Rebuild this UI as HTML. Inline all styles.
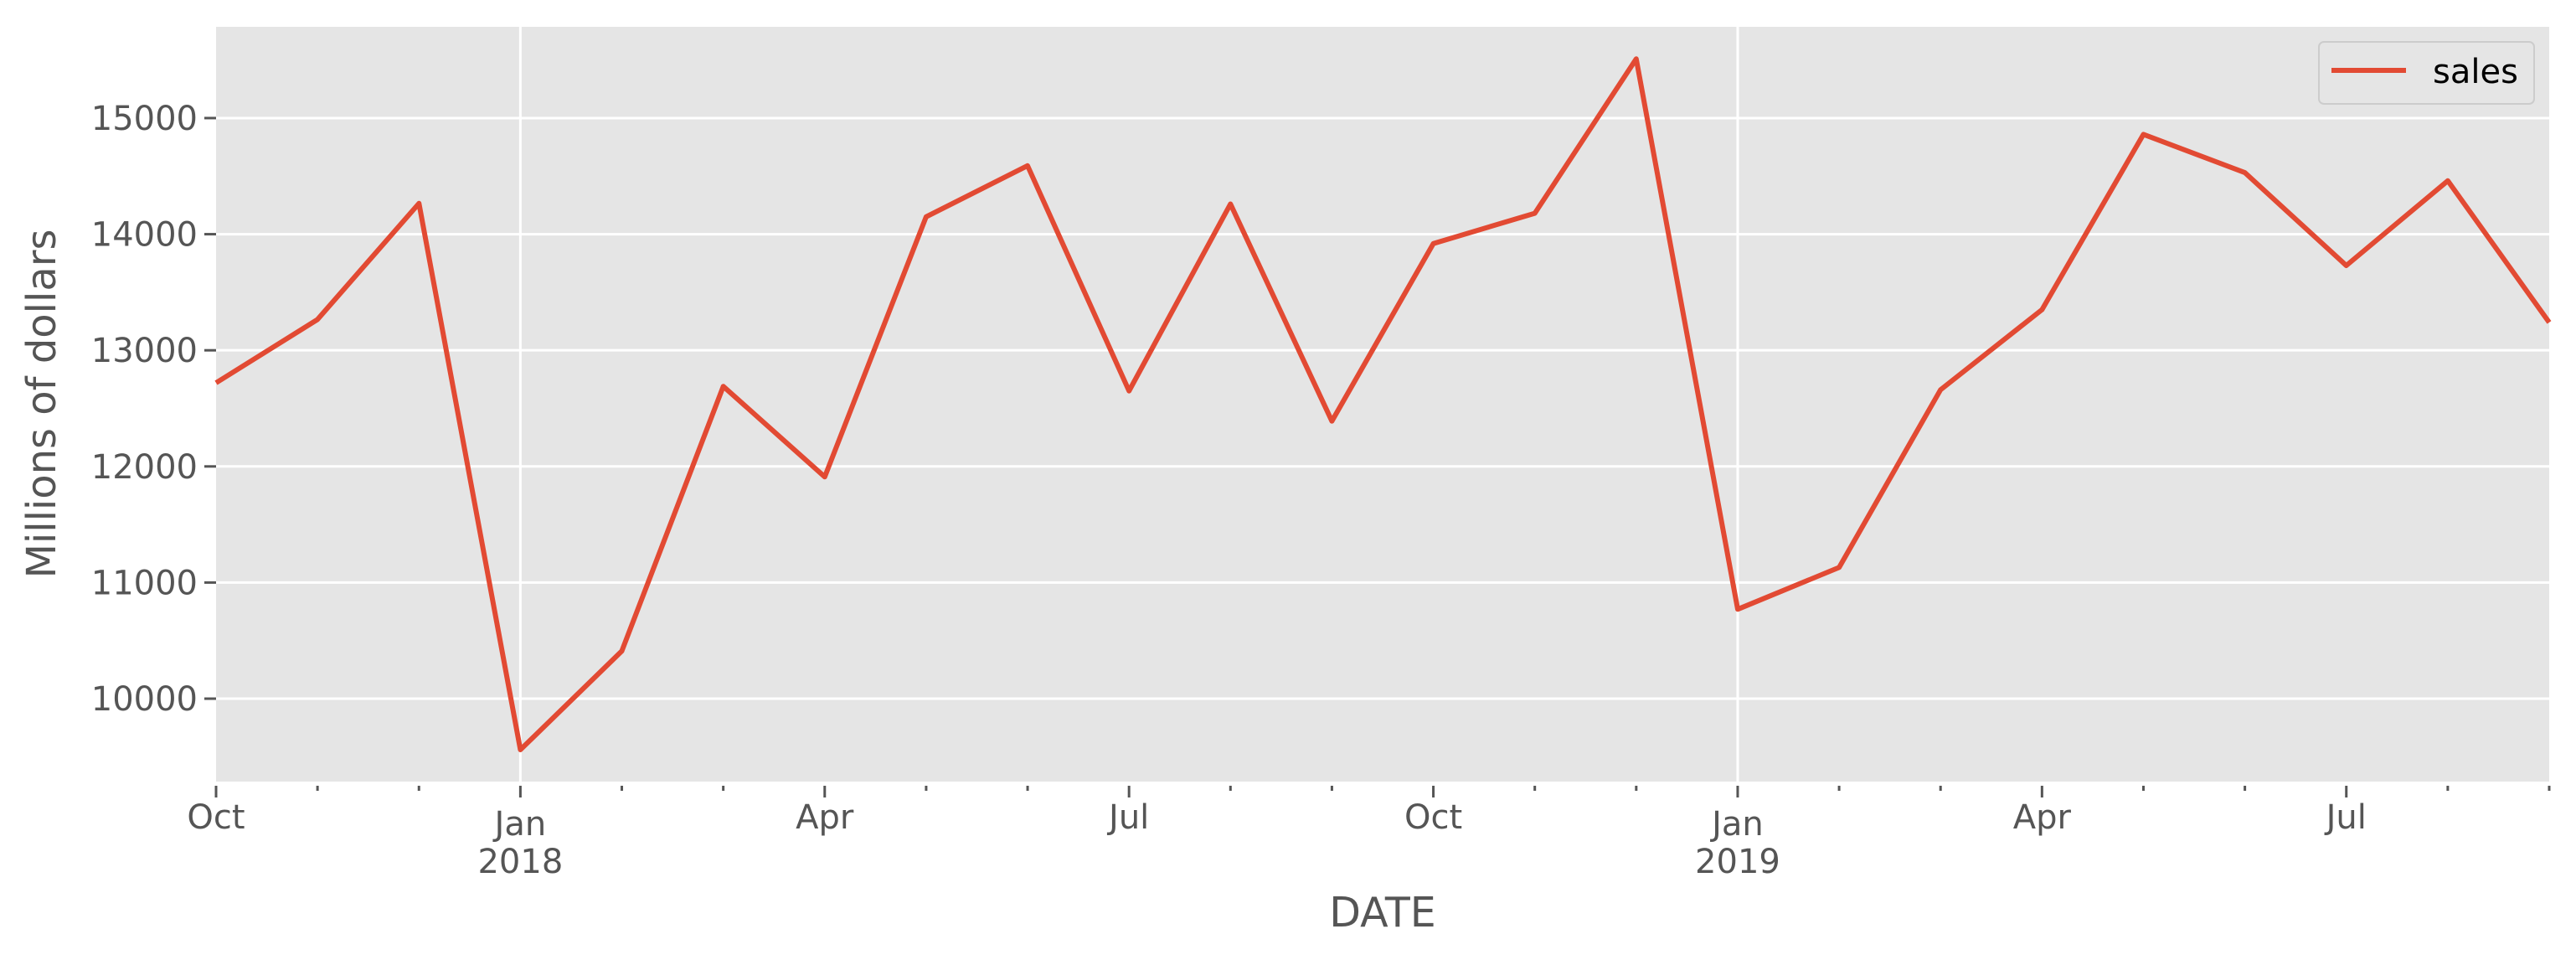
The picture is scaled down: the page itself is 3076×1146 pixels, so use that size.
<!DOCTYPE html>
<html><head><meta charset="utf-8"><style>
html,body{margin:0;padding:0;background:#fff;}
svg{display:block;font-family:"DejaVu Sans","Liberation Sans",sans-serif;}
</style></head><body>
<svg id="chart" width="3076" height="1146" viewBox="0 0 3076 1146" xmlns="http://www.w3.org/2000/svg">
<rect x="258" y="32" width="2786" height="901" fill="#e5e5e5"/>
<g id="grid"></g>
<g id="ticks"></g>
<g id="series"></g>
<text transform="translate(66,482) rotate(-90)" text-anchor="middle" font-size="48" fill="#555">Millions of dollars</text>
<text x="1651" y="1106" text-anchor="middle" font-size="49" fill="#555">DATE</text>
<g>
<rect x="2769" y="50" width="257" height="74" rx="6" fill="#e5e5e5" stroke="#cccccc" stroke-width="2"/>
<line x1="2784" y1="84" x2="2873" y2="84" stroke="#E24A33" stroke-width="6"/>
<text x="2905" y="99" font-size="40" fill="#000">sales</text>
</g>
</svg>
<script>
const months = ["Oct","Nov","Dec","Jan","Feb","Mar","Apr","May","Jun","Jul","Aug","Sep","Oct","Nov","Dec","Jan","Feb","Mar","Apr","May","Jun","Jul","Aug","Sep"];
const years = [2017,2017,2017,2018,2018,2018,2018,2018,2018,2018,2018,2018,2018,2018,2018,2019,2019,2019,2019,2019,2019,2019,2019,2019];
const sales = [12720,13265,14265,9560,10410,12690,11910,14150,14590,12650,14260,12390,13920,14180,15510,10770,11130,12660,13350,14860,14530,13730,14460,13240];
const yTicks = [10000,11000,12000,13000,14000,15000];

const NS="http://www.w3.org/2000/svg";
const L=258,R=3044,T=32,B=933,yMin=9286,yMax=15786;
function xPos(i){return L+(R-L)*i/(months.length-1);}
function yPos(v){return B-(v-yMin)/(yMax-yMin)*(B-T);}
function mk(tag,attrs,parent){const e=document.createElementNS(NS,tag);for(const k in attrs)e.setAttribute(k,attrs[k]);parent.appendChild(e);return e;}
const grid=document.getElementById('grid'),ticks=document.getElementById('ticks'),series=document.getElementById('series');

yTicks.forEach(v=>{
  const y=yPos(v);
  const g=mk('line',{x1:L,x2:R,y1:y,y2:y,stroke:'#fff','stroke-width':3},grid);
  
  
  const t=mk('line',{x1:L-14,x2:L,y1:y,y2:y,stroke:'#555','stroke-width':3},ticks);
  
  
  const lab=mk('text',{x:L-22,y:y+14,'text-anchor':'end','font-size':40,fill:'#555'},ticks);
  lab.textContent=v;
  
  
});

months.forEach((m,i)=>{
  const x=xPos(i);
  const major=(m==="Oct"||m==="Jan"||m==="Apr"||m==="Jul");
  if(m==="Jan"){
    const g=mk('line',{x1:x,x2:x,y1:T,y2:B,stroke:'#fff','stroke-width':3},grid);
    
    
  }
  const t=mk('line',{x1:x,x2:x,y1:B+5,y2:B+(major?19:11),stroke:'#555','stroke-width':3},ticks);
  
  
  if(major){
    const lab=mk('text',{x:x,y:m==="Jan"?997:989,'text-anchor':'middle','font-size':40,fill:'#555'},ticks);
    lab.textContent=m;
    
    
    if(m==="Jan"){
      const yl=mk('text',{x:x,y:1042,'text-anchor':'middle','font-size':40,fill:'#555'},ticks);
      yl.textContent=years[i];
      
      
    }
  }
});

const pts=sales.map((v,i)=>xPos(i).toFixed(1)+','+yPos(v).toFixed(1)).join(' ');
const line=mk('polyline',{points:pts,fill:'none',stroke:'#E24A33','stroke-width':6,'stroke-linejoin':'round'},series);


</script>
</body></html>
